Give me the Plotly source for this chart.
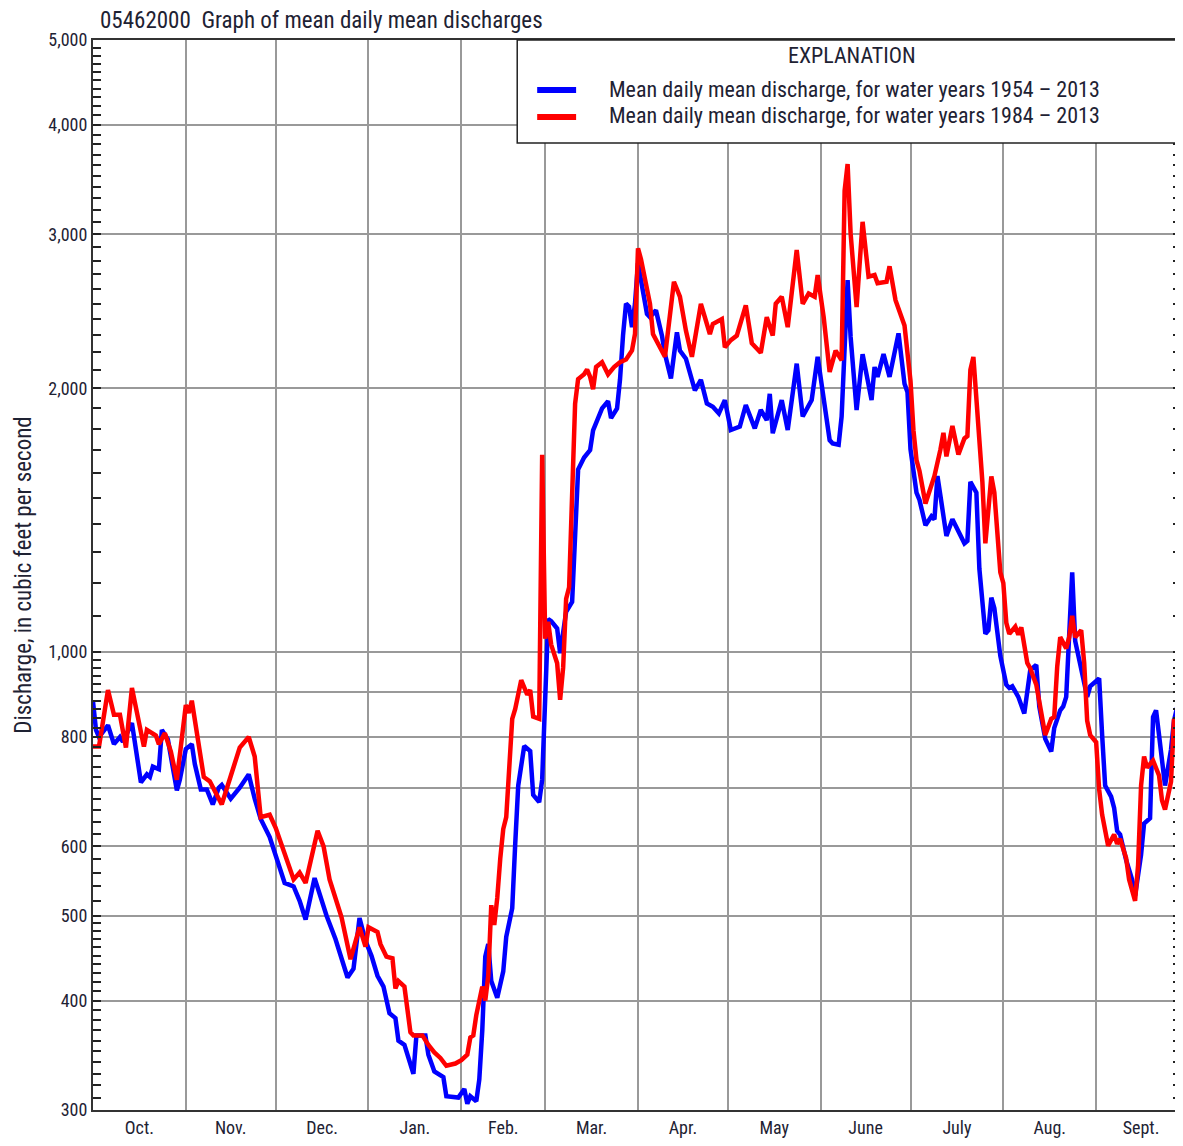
import plotly.graph_objects as go
import numpy as np

# ---------------- data ----------------
days_1954 = [0, 1, 2, 5, 7, 9, 10, 13, 16, 18, 19, 20, 22, 23, 25, 27, 28, 29, 31, 33, 34, 36, 38, 40,
             42, 43, 46, 49, 52, 54, 56, 59, 62, 64, 67, 69, 71, 74, 78, 81, 85, 87, 89, 91, 93, 95,
             97, 99, 101, 102, 104, 107, 108, 111, 112, 114, 117, 118, 122, 124, 125, 126, 128, 129,
             130, 131, 132, 133, 135, 137, 138, 140, 141, 142, 144, 146, 147, 149, 150, 151, 152, 153,
             155, 156, 158, 160, 161, 162, 164, 166, 167, 170, 172, 173, 175, 176, 177, 178, 179, 180,
             181, 182, 185, 186, 188, 190, 191, 193, 195, 196, 198, 201, 203, 205, 207, 209, 211, 213,
             216, 218, 221, 223, 225, 226, 227, 230, 232, 235, 237, 240, 242, 246, 247, 249, 250, 252,
             253, 255, 257, 260, 261, 262, 264, 266, 269, 271, 272, 273, 275, 276, 278, 280, 281, 282,
             283, 285, 287, 289, 291, 292, 293, 295, 296, 298, 299, 300, 301, 303, 305, 306, 307, 309,
             311, 313, 315, 316, 318, 320, 321, 323, 324, 325, 326, 327, 328, 330, 332, 333, 335, 336,
             337, 338, 340, 341, 342, 343, 345, 347, 348, 350, 351, 353, 354, 355, 356, 358, 360, 361,
             363]
flow_1954 = [878, 815, 800, 825, 785, 800, 790, 830, 710, 725, 720, 740, 735, 815, 795, 725, 695, 715,
             775, 785, 745, 697, 697, 670, 700, 705, 680, 700, 725, 680, 645, 615, 575, 545, 540, 520,
             495, 552, 500, 470, 425, 435, 497, 468, 450, 427, 415, 387, 382, 360, 356, 330, 365, 365,
             347, 332, 327, 311, 310, 317, 305, 311, 307, 325, 370, 449, 464, 421, 403, 432, 473, 510,
             604, 704, 781, 771, 687, 674, 715, 900, 1091, 1085, 1064, 997, 1112, 1141, 1323, 1616,
             1668, 1701, 1791, 1898, 1934, 1850, 1898, 2049, 2300, 2500, 2480, 2350, 2500, 2780, 2433,
             2413, 2456, 2298, 2189, 2054, 2318, 2209, 2163, 1990, 2046, 1923, 1906, 1873, 1940, 1793,
             1809, 1915, 1801, 1890, 1840, 1972, 1778, 1940, 1793, 2135, 1858, 1940, 2174, 1746, 1731,
             1725, 1858, 2660, 2290, 1890, 2189, 1940, 2116, 2062, 2189, 2062, 2312, 2025, 1980, 1704,
             1521, 1492, 1396, 1429, 1418, 1589, 1508, 1357, 1418, 1370, 1331, 1340, 1565, 1521, 1245,
             1049, 1059, 1154, 1122, 990, 918, 910, 914, 889, 851, 954, 967, 867, 796, 770, 819, 858,
             867, 889, 1059, 1233, 1030, 954, 889, 914, 928, 933, 804, 704, 684, 664, 625, 619, 579,
             550, 527, 587, 637, 646, 843, 858, 804, 704, 774, 835, 893]

days_1984 = [0, 2, 5, 7, 9, 11, 13, 17, 18, 21, 22, 24, 26, 28, 31, 32, 33, 37, 39, 41, 43, 46, 49, 52,
             54, 56, 59, 61, 64, 67, 69, 71, 75, 77, 79, 83, 86, 89, 91, 92, 95, 96, 98, 100, 101, 102,
             104, 106, 107, 110, 112, 114, 116, 118, 121, 123, 125, 126, 127, 128, 130, 131, 132, 133,
             134, 135, 136, 137, 138, 140, 141, 143, 145, 146, 147, 149, 150, 151, 152, 153, 155, 156,
             157, 158, 159, 160, 161, 162, 164, 165, 166, 167, 168, 170, 172, 174, 176, 178, 180, 181,
             182, 183, 186, 187, 190, 191, 194, 196, 198, 200, 203, 206, 207, 210, 211, 213, 215, 218,
             220, 223, 225, 227, 228, 230, 232, 235, 237, 239, 241, 242, 244, 246, 248, 250, 251, 252,
             253, 255, 257, 259, 261, 262, 265, 266, 268, 271, 273, 274, 275, 276, 278, 280, 281, 283,
             284, 285, 287, 289, 291, 292, 293, 294, 295, 297, 298, 300, 301, 303, 304, 305, 306, 308,
             309, 310, 312, 313, 315, 317, 318, 320, 321, 322, 323, 325, 326, 327, 328, 330, 331, 332,
             333, 335, 336, 337, 339, 341, 342, 343, 345, 346, 348, 349, 350, 351, 352, 354, 356, 357,
             358, 360, 361, 362, 363]
flow_1984 = [780, 780, 905, 848, 848, 778, 910, 780, 815, 803, 785, 808, 770, 715, 870, 852, 880, 720,
             712, 690, 670, 722, 778, 800, 760, 648, 652, 630, 590, 550, 560, 545, 625, 600, 550, 498,
             446, 485, 461, 485, 479, 464, 449, 447, 413, 421, 415, 368, 365, 365, 356, 349, 344, 337,
             339, 342, 347, 363, 365, 385, 415, 400, 427, 514, 488, 524, 581, 628, 648, 839, 861, 929,
             894, 905, 844, 839, 1680, 1036, 1083, 1020, 971, 882, 960, 1150, 1186, 1504, 1922, 2050,
             2076, 2102, 2063, 1996, 2116, 2143, 2076, 2116, 2143, 2158, 2210, 2308, 2891, 2810, 2499,
             2308, 2209, 2174, 2648, 2546, 2329, 2174, 2499, 2308, 2370, 2401, 2229, 2271, 2298, 2488,
             2253, 2197, 2413, 2298, 2499, 2546, 2350, 2878, 2499, 2568, 2546, 2695, 2413, 2089, 2209,
             2154, 3364, 3608, 3007, 2477, 3100, 2684, 2695, 2638, 2648, 2758, 2523, 2360, 2040, 1790,
             1657, 1610, 1478, 1557, 1589, 1704, 1780, 1673, 1812, 1681, 1754, 1765, 2101, 2173, 1965,
             1565, 1331, 1587, 1521, 1233, 1199, 1080, 1049, 1069, 1047, 1067, 972, 958, 918, 843, 804,
             839, 843, 963, 1040, 1010, 1040, 1100, 1040, 1059, 972, 835, 804, 789, 697, 652, 601, 619,
             604, 612, 582, 550, 520, 571, 704, 760, 738, 752, 723, 677, 661, 711, 839, 827, 796]

month_labels = ["Oct.", "Nov.", "Dec.", "Jan.", "Feb.", "Mar.", "Apr.", "May", "June", "July", "Aug.", "Sept."]
month_lengths = [31, 30, 31, 31, 28, 31, 30, 31, 30, 31, 31, 30]

y_major = [300, 400, 500, 600, 700, 800, 900, 1000, 2000, 3000, 4000, 5000]
y_major_text = ["300", "400", "500", "600", "", "800", "", "1,000", "2,000", "3,000", "4,000", "5,000"]

series_names = ["Mean daily mean discharge, for water years 1954 \u2013 2013",
                "Mean daily mean discharge, for water years 1984 \u2013 2013"]

# ---------------- derived axis helpers ----------------
bounds = np.concatenate([[0], np.cumsum(month_lengths)]).tolist()
mids = [(bounds[i] + bounds[i + 1]) / 2 for i in range(12)]
minor_y = ([v for v in range(310, 500, 10) if v % 100] +
           [v for v in range(520, 1000, 20) if v % 100] +
           [v for v in range(1100, 5000, 100) if v % 1000])

FONT = "Liberation Sans Narrow, Arial Narrow, Roboto Condensed, DejaVu Sans Condensed, sans-serif"
TXT = "#1e2233"

# page body has an 8px margin on every side: keep the figure inside the window
OFF = 8
W, H = 1183 - OFF, 1146 - 2 * OFF
# target screen coordinates of the plot area
L, R, T, B = 93, 1183, 40, 1110
pw, ph = R - L, B - T

fig = go.Figure()
fig.add_trace(go.Scatter(x=days_1954, y=flow_1954, mode="lines", name=series_names[0],
                         line=dict(color="#0000ff", width=4.5), showlegend=False))
fig.add_trace(go.Scatter(x=days_1984, y=flow_1984, mode="lines", name=series_names[1],
                         line=dict(color="#ff0000", width=4.5), showlegend=False))

def px(xp):
    return (xp - L) / pw

def py(yp):
    return (B - yp) / ph

# legend box (EXPLANATION)
fig.add_shape(type="rect", xref="paper", yref="paper", x0=px(518), x1=px(1200), y0=py(143), y1=py(40),
              line=dict(color="#222", width=1.5), fillcolor="white", layer="above")
for yy, col in [(90, "#0000ff"), (117, "#ff0000")]:
    fig.add_shape(type="line", xref="paper", yref="paper", x0=px(538), x1=px(577), y0=py(yy), y1=py(yy),
                  line=dict(color=col, width=6), layer="above")
fig.add_annotation(text="EXPLANATION", xref="paper", yref="paper", x=px(853), y=py(56),
                   xanchor="center", yanchor="middle", showarrow=False,
                   font=dict(family=FONT, size=22, color=TXT))
for yy, name in [(89, series_names[0]), (116, series_names[1])]:
    fig.add_annotation(text=name, xref="paper", yref="paper", x=px(608), y=py(yy),
                       xanchor="left", yanchor="middle", showarrow=False,
                       font=dict(family=FONT, size=22, color=TXT))

# y-axis label
fig.add_annotation(text="Discharge, in cubic feet per second", xref="paper", yref="paper",
                   x=px(22.5), y=py(575), textangle=-90, xanchor="center", yanchor="middle",
                   showarrow=False, font=dict(family=FONT, size=23, color=TXT))

fig.update_layout(
    width=W, height=H, autosize=False,
    margin=dict(l=L - OFF, r=(1183 - R), t=T - OFF, b=H - (B - OFF), pad=0),
    paper_bgcolor="white", plot_bgcolor="white",
    title=dict(text="05462000  Graph of mean daily mean discharges", x=(100 - OFF) / W, xanchor="left",
               y=1 - 4 / H, yanchor="top", font=dict(family=FONT, size=23, color=TXT)),
    font=dict(family=FONT, color=TXT),
    xaxis=dict(range=[0, pw / 3.0], tickmode="array", tickvals=mids, ticktext=month_labels,
               showgrid=False, ticks="", tickfont=dict(family=FONT, size=18, color=TXT),
               showline=True, linecolor="#333", linewidth=2, mirror=True, zeroline=False,
               minor=dict(tickmode="array", tickvals=bounds, showgrid=True, gridcolor="#999999",
                          gridwidth=1.5, ticks="")),
    yaxis=dict(type="log", range=[np.log10(300), np.log10(5000)], tickmode="array",
               tickvals=y_major, ticktext=y_major_text, showgrid=True, gridcolor="#999999",
               gridwidth=1.5, ticks="inside", ticklen=8, tickwidth=2, tickcolor="#222",
               tickfont=dict(family=FONT, size=18, color=TXT),
               showline=True, linecolor="#333", linewidth=2, mirror="allticks", zeroline=False,
               minor=dict(tickmode="array", tickvals=minor_y, ticks="inside", ticklen=8,
                          tickwidth=2, tickcolor="#222", showgrid=False)),
)

fig.write_html("out.html", config={"responsive": False})
